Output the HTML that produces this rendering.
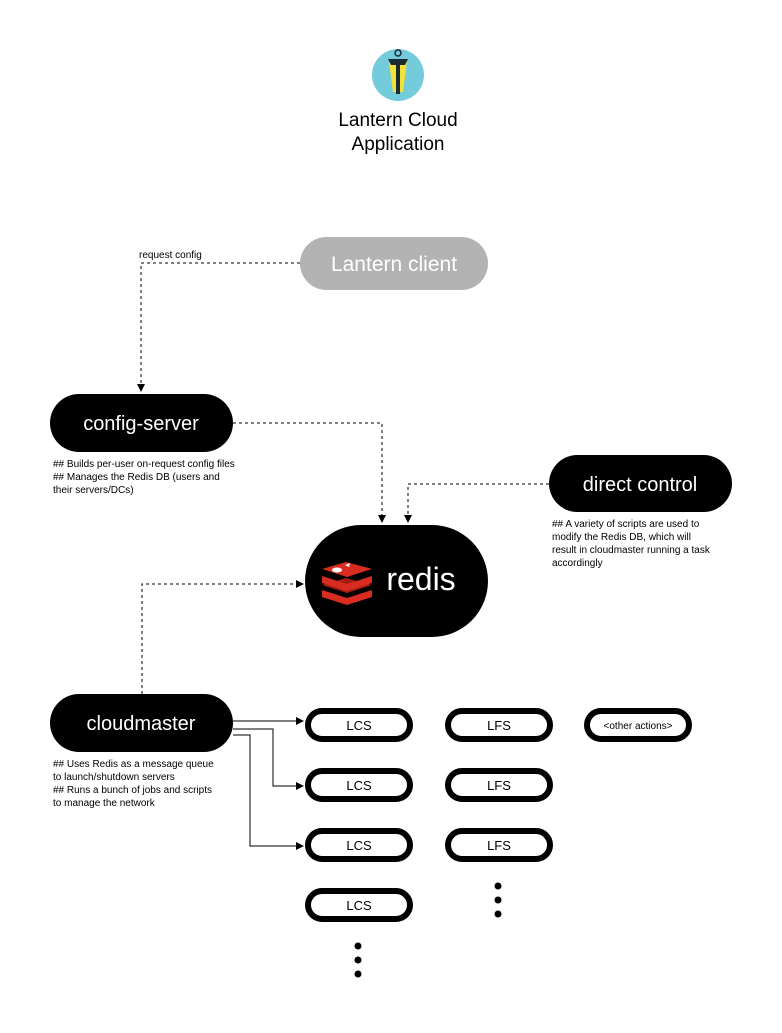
<!DOCTYPE html>
<html><head><style>
body{margin:0;background:#fff;}
svg text{font-family:"Liberation Sans",sans-serif;}
</style></head><body>
<svg width="782" height="1028" viewBox="0 0 782 1028" xmlns="http://www.w3.org/2000/svg">
<defs><marker id="a" markerWidth="8" markerHeight="8" refX="7" refY="4" orient="auto" markerUnits="userSpaceOnUse"><path d="M0,0 L8,4 L0,8 z" fill="#000"/></marker></defs>
<circle cx="398" cy="75" r="26" fill="#74cbdb"/>
<circle cx="398" cy="53" r="3" fill="none" stroke="#1a2a30" stroke-width="1.5"/>
<path d="M389,62 L407,62 L403,92 L393,92 Z" fill="#f1e23a"/>
<path d="M388,59 L408,59 L405,65 L391,65 Z" fill="#1a2a30"/>
<rect x="396" y="60" width="4" height="34" fill="#1a2a30"/>
<text x="398" y="126" font-size="19" text-anchor="middle">Lantern Cloud</text>
<text x="398" y="150" font-size="19" text-anchor="middle">Application</text>
<g fill="none" stroke="#000" stroke-width="1" stroke-dasharray="3,3">
<path d="M300,263 H141 V391" marker-end="url(#a)"/>
<path d="M233,423 H382 V522" marker-end="url(#a)"/>
<path d="M549,484 H408 V522" marker-end="url(#a)"/>
<path d="M142,694 V584 H303" marker-end="url(#a)"/>
</g>
<g fill="none" stroke="#000" stroke-width="1">
<path d="M233,721 H303" marker-end="url(#a)"/>
<path d="M233,729 H273 V786 H303" marker-end="url(#a)"/>
<path d="M233,735 H250 V846 H303" marker-end="url(#a)"/>
</g>
<text x="139" y="258" font-size="10">request config</text>
<rect x="300" y="237" width="188" height="53" rx="26.5" fill="#b3b3b3"/>
<text x="394" y="271" font-size="21" fill="#fff" text-anchor="middle">Lantern client</text>
<rect x="50" y="394" width="183" height="58" rx="29" fill="#000"/>
<text x="141" y="430" font-size="20" fill="#fff" text-anchor="middle">config-server</text>
<rect x="549" y="455" width="183" height="57" rx="28.5" fill="#000"/>
<text x="640" y="491" font-size="20" fill="#fff" text-anchor="middle">direct control</text>
<rect x="305" y="525" width="183" height="112" rx="56" fill="#000"/>
<g>
<path d="M322,585 L346,578 L372,585 L347,593 Z" fill="#a41e11"/>
<path d="M322,590 L347,598 L372,590 L372,597 L347,605 L322,597 Z" fill="#d82c20"/>
<path d="M322,576 L347,584 L372,576 L372,583 L347,591 L322,583 Z" fill="#d82c20"/>
<path d="M322,569 L346,562 L372,569 L347,577 Z" fill="#d82c20"/>
<ellipse cx="337" cy="570" rx="5" ry="2.5" fill="#fff"/>
<path d="M345,565 L350,563 L349,567 Z" fill="#fff"/>
</g>
<text x="421" y="590" font-size="32" fill="#fff" text-anchor="middle">redis</text>
<rect x="50" y="694" width="183" height="58" rx="29" fill="#000"/>
<text x="141" y="730" font-size="20" fill="#fff" text-anchor="middle">cloudmaster</text>
<g font-size="10">
<text x="53" y="467">## Builds per-user on-request config files</text>
<text x="53" y="480">## Manages the Redis DB (users and</text>
<text x="53" y="493">their servers/DCs)</text>
<text x="552" y="527">## A variety of scripts are used to</text>
<text x="552" y="540">modify the Redis DB, which will</text>
<text x="552" y="553">result in cloudmaster running a task</text>
<text x="552" y="566">accordingly</text>
<text x="53" y="767">## Uses Redis as a message queue</text>
<text x="53" y="780">to launch/shutdown servers</text>
<text x="53" y="793">## Runs a bunch of jobs and scripts</text>
<text x="53" y="806">to manage the network</text>
</g>
<g fill="#fff" stroke="#000" stroke-width="6">
<rect x="308" y="711" width="102" height="28" rx="14"/>
<rect x="308" y="771" width="102" height="28" rx="14"/>
<rect x="308" y="831" width="102" height="28" rx="14"/>
<rect x="308" y="891" width="102" height="28" rx="14"/>
<rect x="448" y="711" width="102" height="28" rx="14"/>
<rect x="448" y="771" width="102" height="28" rx="14"/>
<rect x="448" y="831" width="102" height="28" rx="14"/>
<rect x="587" y="711" width="102" height="28" rx="14"/>
</g>
<g font-size="13" text-anchor="middle">
<text x="359" y="730">LCS</text><text x="359" y="790">LCS</text><text x="359" y="850">LCS</text><text x="359" y="910">LCS</text>
<text x="499" y="730">LFS</text><text x="499" y="790">LFS</text><text x="499" y="850">LFS</text>
<text x="638" y="729" font-size="10">&lt;other actions&gt;</text>
</g>
<g fill="#000">
<circle cx="358" cy="946" r="3.5"/><circle cx="358" cy="960" r="3.5"/><circle cx="358" cy="974" r="3.5"/>
<circle cx="498" cy="886" r="3.5"/><circle cx="498" cy="900" r="3.5"/><circle cx="498" cy="914" r="3.5"/>
</g>
</svg>
</body></html>
